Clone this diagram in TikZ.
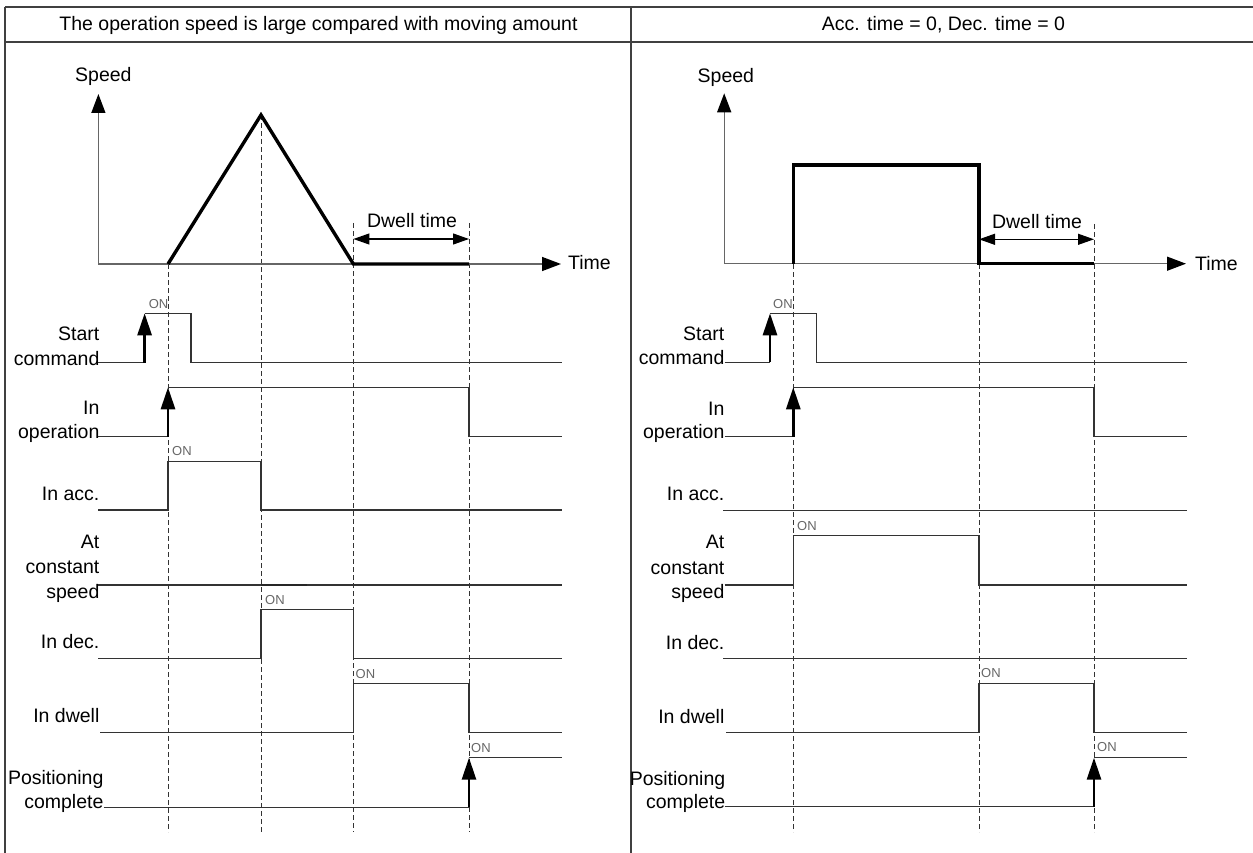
\documentclass[tikz,border=0pt]{standalone}
\usepackage{fontspec}
\setmainfont{Liberation Sans}
\usetikzlibrary{arrows.meta}
\tikzset{
  frameline/.style={draw=black!75,line width=1.5pt},
  axisline/.style={draw=black!60,line width=1.4pt},
  axisarrow/.style={axisline,-{Triangle[length=19pt,width=14pt]},arrows={[color=black]}},
  profile/.style={draw=black,line width=3.4pt,line join=miter},
  sigline/.style={draw=black!80,line width=1.2pt},
  vdash/.style={draw=black!80,line width=0.9pt,dash pattern=on 5pt off 3pt},
  uparrow/.style={draw=black,line width=2.8pt,-{Triangle[length=22pt,width=14pt]}},
  dwellarrow/.style={draw=black,line width=1.1pt,{Triangle[length=16pt,width=11pt]}-{Triangle[length=16pt,width=11pt]}},
  lab/.style={inner sep=0pt,anchor=base east,font=\fontsize{19.5}{23}\selectfont},
  txt/.style={inner sep=0pt,font=\fontsize{19.5}{23}\selectfont},
  onlab/.style={inner sep=0pt,anchor=base west,text=black!60,font=\fontsize{13}{15}\selectfont},
}
\begin{document}
\begin{tikzpicture}[x=1pt,y=-1pt]
\useasboundingbox (0,0) rectangle (1253,853);
% frame
\draw[frameline] (5,7) -- (1253,7);
\draw[frameline] (5,42) -- (1253,42);
\draw[frameline] (5,7) -- (5,853);
\draw[frameline] (631,7) -- (631,853);
\node[txt,anchor=base] (hL) at (318.5,30.7) {The operation speed is large compared with moving amount};
\node[txt,anchor=base] (hR) at (943.5,30.7) {Acc. time = 0, Dec. time = 0};

%%%%%%%%%%%%%%%% LEFT PANEL
% dashed guides
\draw[vdash] (168,264) -- (168,832);
\draw[vdash] (261,115) -- (261,832);
\draw[vdash] (353.4,223) -- (353.4,832);
\draw[vdash] (469,223) -- (469,832);
% axes
\coordinate (oL) at (98.4,264);
\draw[axisarrow] (oL) -- (98.4,94);
\draw[axisarrow] (oL) -- (561,264);
\node[txt,anchor=base west] (spL) at (75,82) {Speed};
\node[txt,anchor=base west] (tmL) at (568,269.5) {Time};
% profile
\draw[profile] (168,264) -- (261,115) -- (353.4,264) -- (469,264);
\draw[dwellarrow] (353.4,239) -- (469,239);
\node[txt,anchor=base] (dwL) at (412,228) {Dwell time};
% labels
\node[lab] at (99.6,340) {Start};
\node[lab] at (99.6,365) {command};
\node[lab] at (99.6,414) {In};
\node[lab] at (99.6,438.5) {operation};
\node[lab] at (99.6,500) {In acc.};
\node[lab] at (99.6,548.3) {At};
\node[lab] at (99.6,573) {constant};
\node[lab] at (99.6,598) {speed};
\node[lab] at (99.6,648) {In dec.};
\node[lab] at (99.6,722.7) {In dwell};
\node[lab] at (103.6,784) {Positioning};
\node[lab] at (103.6,808) {complete};
% signals
\draw[sigline] (98,362.7) -- (144.6,362.7);
\draw[uparrow] (144.6,362.7) -- (144.6,313.3);
\draw[sigline] (144.6,313.3) -- (191,313.3) -- (191,362.7) -- (561.5,362.7);
\node[onlab] at (148.6,308) {ON};

\draw[sigline] (98,436.7) -- (168,436.7);
\draw[uparrow] (168,436.7) -- (168,387.3);
\draw[sigline] (168,387.3) -- (469,387.3) -- (469,436.7) -- (561.5,436.7);

\draw[sigline] (98,510) -- (168,510) -- (168,461.3) -- (261,461.3) -- (261,510) -- (561.5,510);
\node[onlab] at (172,455.7) {ON};

\draw[sigline] (98,585) -- (561.5,585);
\draw[draw=black!85,line width=1.8pt] (261,585) -- (307,585);

\draw[sigline] (98,658.7) -- (261,658.7) -- (261,609.3) -- (353.4,609.3) -- (353.4,658.7) -- (561.5,658.7);
\node[onlab] at (265,604) {ON};

\draw[sigline] (100,732.7) -- (353.4,732.7) -- (353.4,683.7) -- (469,683.7) -- (469,732.7) -- (561.5,732.7);
\node[onlab] at (355.5,678) {ON};

\draw[sigline] (103.6,807.3) -- (469,807.3);
\draw[uparrow] (469,807.3) -- (469,757.7);
\draw[sigline] (469,757.7) -- (561.5,757.7);
\node[onlab] at (471,752) {ON};

%%%%%%%%%%%%%%%% RIGHT PANEL
\draw[vdash] (793.3,264) -- (793.3,832);
\draw[vdash] (979,224) -- (979,832);
\draw[vdash] (1094,224) -- (1094,832);
\coordinate (oR) at (724.2,263.7);
\draw[axisarrow] (oR) -- (724.2,93.3);
\draw[axisarrow] (oR) -- (1186,263.7);
\node[txt,anchor=base west] (spR) at (697.5,82.7) {Speed};
\node[txt,anchor=base west] (tmR) at (1195,270) {Time};
\draw[profile] (793.3,263.7) -- (793.3,165) -- (979,165) -- (979,263.7) -- (1094,263.7);
\draw[dwellarrow] (979,239.3) -- (1094,239.3);
\node[txt,anchor=base] (dwR) at (1037,229) {Dwell time};
% labels
\node[lab] at (724.6,340) {Start};
\node[lab] at (724.6,364.3) {command};
\node[lab] at (724.6,415) {In};
\node[lab] at (724.6,438.3) {operation};
\node[lab] at (724.6,500) {In acc.};
\node[lab] at (724.6,548.3) {At};
\node[lab] at (724.6,574) {constant};
\node[lab] at (724.6,598) {speed};
\node[lab] at (724.6,649) {In dec.};
\node[lab] at (724.6,723) {In dwell};
\node[lab] at (725.4,785) {Positioning};
\node[lab] at (725.4,808) {complete};
% signals
\draw[sigline] (724.6,362.3) -- (770,362.3);
\draw[uparrow] (770,362.3) -- (770,313.3);
\draw[sigline] (770,313.3) -- (816.3,313.3) -- (816.3,362.3) -- (1187,362.3);
\node[onlab] at (773,308) {ON};

\draw[sigline] (724.6,436.7) -- (793.3,436.7);
\draw[uparrow] (793.3,436.7) -- (793.3,387.3);
\draw[sigline] (793.3,387.3) -- (1094,387.3) -- (1094,436.7) -- (1187,436.7);

\draw[sigline] (723,510.7) -- (1187,510.7);

\draw[sigline] (724.6,585) -- (793.3,585) -- (793.3,535.7) -- (979,535.7) -- (979,585) -- (1187,585);
\node[onlab] at (797,530) {ON};

\draw[sigline] (723,658.7) -- (1187,658.7);

\draw[sigline] (726,732.7) -- (979,732.7) -- (979,683.7) -- (1094,683.7) -- (1094,732.7) -- (1187,732.7);
\node[onlab] at (981,677) {ON};

\draw[sigline] (724.6,806.7) -- (1094,806.7);
\draw[uparrow] (1094,806.7) -- (1094,757.7);
\draw[sigline] (1094,757.7) -- (1187,757.7);
\node[onlab] at (1097,751.7) {ON};
\end{tikzpicture}
\end{document}
